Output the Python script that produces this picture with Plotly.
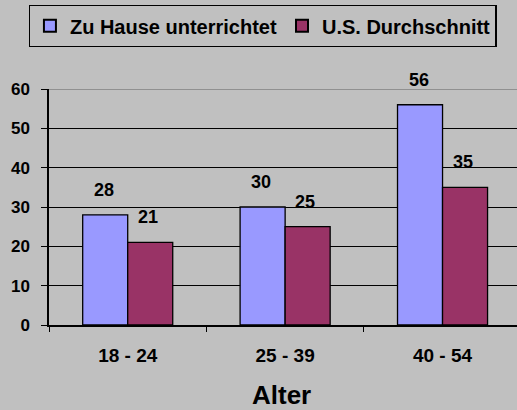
import plotly.graph_objects as go

categories = ["18 - 24", "25 - 39", "40 - 54"]
home_values = [28, 30, 56]
us_values = [21, 25, 35]
series_names = ["Zu Hause unterrichtet", "U.S. Durchschnitt"]
y_ticks = [0, 10, 20, 30, 40, 50, 60]
x_title = "Alter"

BG = "#C0C0C0"
FONT = "Liberation Sans, Arial, sans-serif"


def bold(size):
    return dict(family=FONT, size=size, color="black", weight="bold")


fig = go.Figure()
fig.add_trace(go.Bar(name=series_names[0], x=categories, y=home_values,
                     marker=dict(color="#9999FF", line=dict(color="black", width=1.3))))
fig.add_trace(go.Bar(name=series_names[1], x=categories, y=us_values,
                     marker=dict(color="#993366", line=dict(color="black", width=1.3))))

annotations = []
for vals, shift in ((home_values, -24), (us_values, 20)):
    for c, v in zip(categories, vals):
        annotations.append(dict(x=c, y=v, text=str(v), showarrow=False,
                                xshift=shift, yshift=25, yanchor="middle",
                                font=bold(18)))
annotations.append(dict(text=x_title, showarrow=False, xref="paper", x=0.5 - 2/468,
                        yref="paper", y=-(395 - 325) / 236, yanchor="middle",
                        font=bold(26)))

fig.update_layout(
    width=517, height=410,
    paper_bgcolor=BG, plot_bgcolor=BG,
    margin=dict(l=49, r=0, t=89, b=85),
    barmode="group", bargap=0.428, bargroupgap=0,
    font=dict(family=FONT, color="black"),
    legend=dict(orientation="h", xref="container", yref="container",
                x=0.508, xanchor="center", y=1 - 5/410, yanchor="top",
                bgcolor=BG, bordercolor="black", borderwidth=1.3,
                font=bold(20), itemsizing="constant"),
    annotations=annotations,
    shapes=[dict(type="line", xref="paper", x0=0, x1=1, yref="y",
                 y0=y_ticks[-1], y1=y_ticks[-1], line=dict(color="#808080", width=1.5))],
)
fig.update_xaxes(range=[-0.5, 2.473], showline=True, linecolor="black", linewidth=1.5,
                 ticks="outside", tickson="boundaries", ticklen=5, tickcolor="black",
                 tickfont=bold(19), ticklabelstandoff=12, automargin=False)
fig.update_yaxes(range=[0, 60], tickvals=y_ticks,
                 showline=True, linecolor="black", linewidth=1.5,
                 ticks="outside", ticklen=6, tickcolor="black",
                 showgrid=True, gridcolor="black", gridwidth=1.3, zeroline=False,
                 tickfont=bold(17), ticklabelstandoff=8, automargin=False)

fig.write_html("out.html", config={"displayModeBar": False},
               post_script="document.body.style.margin='0';")
